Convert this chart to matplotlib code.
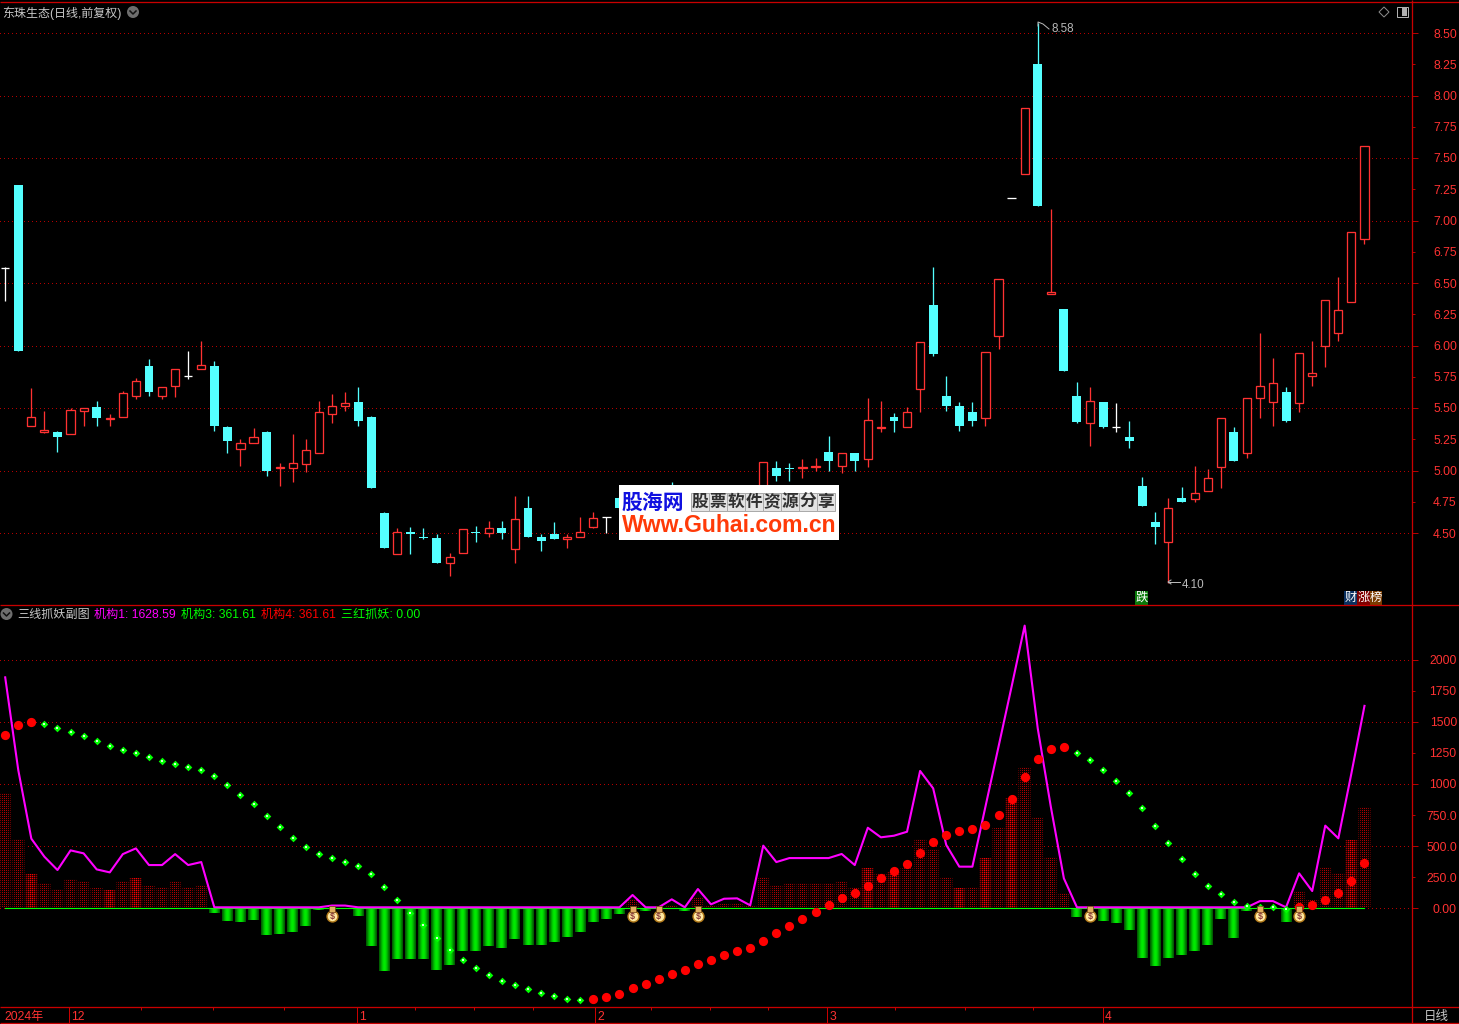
import numpy as np
import matplotlib
matplotlib.use("Agg")
import matplotlib.pyplot as plt
from matplotlib.patches import Rectangle, Circle, Polygon
from matplotlib.path import Path
from matplotlib.patches import PathPatch

plt.rcParams['font.family'] = ['Liberation Sans', 'Noto Sans CJK SC', 'DejaVu Sans']

# candles, one row of ten per line
opens = [6.62, 7.28, 5.36, 5.31, 5.31, 5.29, 5.48, 5.51, 5.41, 5.43,
         5.60, 5.84, 5.60, 5.68, 5.76, 5.81, 5.84, 5.35, 5.17, 5.22,
         5.31, 5.02, 5.02, 5.05, 5.14, 5.45, 5.52, 5.55, 5.43, 4.66,
         4.33, 4.51, 4.47, 4.46, 4.26, 4.34, 4.51, 4.50, 4.54, 4.37,
         4.70, 4.47, 4.49, 4.45, 4.47, 4.55, 4.63, 4.78, 4.62, 4.72,
         4.66, 4.82, 4.72, 4.62, 4.74, 4.68, 4.72, 4.80, 4.74, 5.02,
         5.02, 5.02, 5.03, 5.15, 5.04, 5.14, 5.09, 5.34, 5.43, 5.35,
         5.65, 6.32, 5.60, 5.52, 5.47, 5.42, 6.08, 7.18, 7.37, 8.25,
         6.41, 6.29, 5.60, 5.38, 5.55, 5.35, 5.27, 4.88, 4.59, 4.43,
         4.78, 4.77, 4.84, 5.03, 5.31, 5.14, 5.58, 5.55, 5.63, 5.54,
         5.76, 6.00, 6.10, 6.35, 6.85]
closes = [6.62, 5.96, 5.43, 5.32, 5.27, 5.48, 5.50, 5.42, 5.42, 5.62,
          5.72, 5.63, 5.67, 5.81, 5.76, 5.84, 5.36, 5.24, 5.22, 5.27,
          5.00, 5.03, 5.06, 5.16, 5.47, 5.52, 5.54, 5.40, 4.86, 4.38,
          4.51, 4.49, 4.46, 4.26, 4.31, 4.53, 4.50, 4.54, 4.50, 4.61,
          4.47, 4.44, 4.45, 4.47, 4.51, 4.62, 4.63, 4.70, 4.72, 4.66,
          4.70, 4.70, 4.62, 4.74, 4.68, 4.74, 4.78, 4.72, 5.07, 4.96,
          5.01, 5.03, 5.04, 5.08, 5.14, 5.08, 5.40, 5.35, 5.40, 5.47,
          6.03, 5.93, 5.52, 5.36, 5.40, 5.95, 6.53, 7.18, 7.90, 7.12,
          6.43, 5.80, 5.39, 5.56, 5.35, 5.35, 5.24, 4.72, 4.55, 4.70,
          4.75, 4.82, 4.94, 5.42, 5.08, 5.58, 5.68, 5.70, 5.40, 5.94,
          5.78, 6.36, 6.28, 6.91, 7.60]
highs = [6.63, 7.28, 5.66, 5.48, 5.32, 5.50, 5.50, 5.56, 5.45, 5.64,
         5.74, 5.89, 5.67, 5.81, 5.96, 6.04, 5.88, 5.36, 5.25, 5.34,
         5.32, 5.06, 5.29, 5.25, 5.56, 5.61, 5.63, 5.67, 5.44, 4.67,
         4.54, 4.55, 4.54, 4.49, 4.34, 4.53, 4.56, 4.60, 4.60, 4.80,
         4.80, 4.49, 4.59, 4.49, 4.63, 4.67, 4.63, 4.79, 4.74, 4.76,
         4.74, 4.91, 4.74, 4.78, 4.78, 4.78, 4.82, 4.84, 5.07, 5.08,
         5.06, 5.09, 5.10, 5.28, 5.14, 5.14, 5.58, 5.56, 5.46, 5.51,
         6.03, 6.63, 5.76, 5.55, 5.55, 5.95, 6.53, 7.18, 7.90, 8.58,
         7.09, 6.29, 5.71, 5.67, 5.55, 5.54, 5.40, 4.95, 4.67, 4.78,
         4.87, 5.04, 5.01, 5.42, 5.35, 5.58, 6.10, 5.90, 5.67, 5.94,
         6.04, 6.36, 6.55, 6.91, 7.60]
lows = [6.36, 5.96, 5.36, 5.30, 5.15, 5.29, 5.36, 5.36, 5.36, 5.43,
        5.57, 5.60, 5.57, 5.59, 5.73, 5.81, 5.32, 5.14, 5.04, 5.22,
        4.96, 4.88, 4.91, 4.99, 5.14, 5.38, 5.48, 5.36, 4.86, 4.38,
        4.33, 4.33, 4.45, 4.26, 4.16, 4.34, 4.43, 4.47, 4.45, 4.26,
        4.47, 4.36, 4.45, 4.38, 4.47, 4.54, 4.50, 4.70, 4.60, 4.62,
        4.62, 4.66, 4.58, 4.60, 4.64, 4.66, 4.70, 4.68, 4.72, 4.92,
        4.92, 4.94, 5.00, 5.00, 4.98, 5.00, 5.03, 5.31, 5.31, 5.35,
        5.47, 5.92, 5.48, 5.32, 5.36, 5.36, 5.97, 7.18, 7.37, 7.12,
        6.41, 5.80, 5.38, 5.20, 5.34, 5.31, 5.18, 4.72, 4.41, 4.10,
        4.75, 4.75, 4.84, 4.86, 5.08, 5.10, 5.42, 5.36, 5.39, 5.47,
        5.68, 5.83, 6.04, 6.35, 6.81]

# sub panel
jigou1 = [1858, 1112, 560, 415, 308, 466, 442, 313, 289, 436,
          482, 348, 348, 436, 348, 372, 8, 8, 8, 8,
          8, 8, 8, 8, 8, 22, 22, 8, 8, 8,
          8, 8, 8, 8, 8, 8, 8, 8, 8, 8,
          8, 8, 8, 8, 8, 8, 8, 8, 107, 8,
          8, 72, 8, 155, 32, 77, 80, 24, 504, 372,
          404, 404, 404, 404, 437, 348, 648, 571, 584, 616,
          1105, 965, 510, 335, 335, 818, 1300, 1783, 2274, 1448,
          818, 241, 8, 8, 8, 8, 8, 8, 8, 8,
          8, 8, 8, 8, 8, 8, 58, 58, 8, 281,
          139, 665, 563, 1086, 1628.59]
jigou3 = [1394, 1474, 1498, 1482, 1450, 1418, 1386, 1346, 1305, 1273,
          1249, 1217, 1185, 1160, 1136, 1112, 1064, 991, 911, 839,
          742, 654, 565, 493, 436, 404, 372, 340, 275, 171,
          66, -38, -135, -240, -336, -416, -481, -537, -585, -617,
          -650, -682, -706, -730, -738, -730, -714, -690, -642, -609,
          -569, -529, -497, -448, -416, -376, -344, -320, -263, -199,
          -143, -86, -30, 26, 83, 123, 179, 243, 300, 356,
          445, 533, 590, 622, 638, 670, 751, 879, 1056, 1201,
          1282, 1298, 1249, 1193, 1113, 1024, 928, 807, 662, 525,
          397, 276, 179, 115, 51, 19, 11, 10, -5, 11,
          27, 67, 123, 220, 361.61]
bars = [930, 560, 275, 203, 155, 235, 219, 163, 147, 219,
        243, 179, 171, 219, 171, 187, -38, -103, -111, -95,
        -215, -207, -191, -143, -13, 0, 0, -62, -303, -504,
        -408, -408, -408, -496, -456, -344, -344, -304, -320, -247,
        -296, -296, -271, -231, -191, -111, -86, -46, 75, -20,
        0, 26, -20, 80, 18, 34, 45, 18, 252, 187,
        203, 203, 203, 203, 219, 171, 324, 284, 292, 324,
        557, 477, 255, 163, 171, 405, 646, 887, 1137, 734,
        413, 123, -70, 0, -102, -118, -174, -400, -464, -400,
        -376, -344, -296, -86, -239, -21, 0, 0, -110, 139,
        67, 332, 284, 550, 815]
bright_bars = [2, 8, 10, 66, 68, 73, 75, 77, 103]
bag_days = [25, 48, 50, 53, 83, 96, 99]

price_major = [4.5, 5.0, 5.5, 6.0, 6.5, 7.0, 7.5, 8.0, 8.5]
price_minor = [4.75, 5.25, 5.75, 6.25, 6.75, 7.25, 7.75, 8.25]
sub_major = [0, 500, 1000, 1500, 2000]
sub_major_labels = ["0.00", "500.0", "1000", "1500", "2000"]
sub_minor = [250, 750, 1250, 1750]
sub_minor_labels = ["250.0", "750.0", "1250", "1750"]
month_pos = [4.88, 26.95, 45.15, 62.9, 84.0]
month_labels = ["12", "1", "2", "3", "4"]
week_pos = [10.4, 15.9, 21.3, 31.35, 35.9, 40.4, 49.4, 53.9, 58.4, 68.1, 73.4, 78.6]

W, H = 1459, 1024
RED = '#ff3232'
CYAN = '#54ffff'
LINE = '#b40000'
px = 0.72  # one pixel in points at dpi 100
step = 13.07
x0 = 5.2
xlim = (-x0 / step, (1412 - x0) / step)

fig = plt.figure(figsize=(W / 100, H / 100), dpi=100, facecolor='black')


def make_axes(top, bottom):
    ax = fig.add_axes([0, 1 - bottom / H, 1412 / W, (bottom - top) / H], facecolor='black')
    for s in ax.spines.values():
        s.set_visible(False)
    ax.yaxis.tick_right()
    ax.set_xticks([])
    ax.tick_params(axis='y', which='major', length=6 * px, width=px, color=LINE, pad=28,
                   labelcolor=RED, labelsize=8.7)
    ax.tick_params(axis='y', which='minor', length=3 * px, width=px, color=LINE, pad=30,
                   labelcolor=RED, labelsize=8.7)
    ax.grid(axis='y', which='major', color=LINE, linestyle=(0, (1, 3.4)), linewidth=px, antialiased=False)
    ax.set_axisbelow(True)
    return ax


# ---- price panel
ax = make_axes(3, 605)
days = np.arange(len(opens))
cw = 1.3 * px
for i in days:
    o, c, hi, lo = opens[i], closes[i], highs[i], lows[i]
    col = RED if c > o else (CYAN if c < o else 'white')
    ax.vlines(i, lo, hi, color=col, linewidth=cw, zorder=2)
    if c == o:
        ax.hlines(c, i - 0.32, i + 0.32, color=col, linewidth=cw, zorder=3)
    elif c > o:
        ax.bar(i, c - o, bottom=o, width=0.62, facecolor='black', edgecolor=col,
               linewidth=cw, zorder=3)
    else:
        ax.bar(i, o - c, bottom=c, width=0.68, facecolor=col, edgecolor=col,
               linewidth=0, antialiased=False, zorder=3)
ax.set_xlim(xlim)
ax.set_ylim(4.5 + (533 - 605) * 0.008, 4.5 + (533 - 3) * 0.008)
ax.set_yticks(price_major)
ax.set_yticklabels(["%.2f" % v for v in price_major], ha='right')
ax.set_yticks(price_minor, minor=True)
ax.set_yticklabels(["%.2f" % v for v in price_minor], minor=True, ha='right')

# ---- sub panel
ax2 = make_axes(606, 1007)
ylim2 = ((908.3 - 1007) / 0.1243, (908.3 - 606) / 0.1243)
ax2.set_xlim(xlim)
ax2.set_ylim(ylim2)

# dot textures at screen resolution, cut down to the columns with a clip path
rows, cols = 401, 1412
rr, cc = np.mgrid[0:rows, 0:cols]
frac = (((cc + 0.5 - x0) / step + 0.5) % 1.0)
shade = 0.35 + 0.65 * np.sin(np.pi * frac)
dim_tex = np.zeros((rows, cols, 3))
dim_tex[..., 0] = np.where((rr % 2 == 0) & (cc % 2 == 0), 0.72, 0.03) * shade
bright_tex = np.zeros((rows, cols, 3))
bright_tex[..., 0] = np.where((rr % 2 == 0) & (cc % 2 == 0), 1.0,
                              np.where((rr % 2 == 0) | (cc % 2 == 0), 0.32, 0.06)) * shade


def column_path(idx):
    verts, codes = [], []
    for i in idx:
        verts += [(i - 0.5, 0), (i + 0.5, 0), (i + 0.5, bars[i]), (i - 0.5, bars[i]), (i - 0.5, 0)]
        codes += [Path.MOVETO, Path.LINETO, Path.LINETO, Path.LINETO, Path.CLOSEPOLY]
    return Path(verts, codes)


up_idx = [i for i, v in enumerate(bars) if v > 0]
dim_idx = [i for i in up_idx if i not in bright_bars]
for idx, tex in [(dim_idx, dim_tex), (bright_bars, bright_tex)]:
    im = ax2.imshow(tex, extent=(xlim[0], xlim[1], ylim2[0], ylim2[1]), aspect='auto',
                    interpolation='nearest', zorder=2)
    im.set_clip_path(PathPatch(column_path(idx), transform=ax2.transData))

for i, v in enumerate(bars):
    if v < 0:
        s = np.sin(np.pi * (np.arange(11) + 0.5) / 11) ** 1.4
        img = np.zeros((1, 11, 3))
        img[0, :, 1] = 0.34 + 0.58 * s
        ax2.imshow(img, extent=(i - 0.42, i + 0.42, v, 0), aspect='auto', interpolation='nearest', zorder=2)

ax2.plot([0, len(jigou1) - 1], [0, 0], color='#00ff00', linewidth=1.1 * px, zorder=3)
ax2.plot(days, jigou1, color='#ff00ff', linewidth=2.1 * px, zorder=4)

dots = np.array(jigou3)
rising = np.r_[True, dots[1:] >= dots[:-1]]
ax2.scatter(days[rising], dots[rising], s=44, color='#ff0000', linewidths=0, zorder=5)
ax2.scatter(days[~rising], dots[~rising], s=15, marker='D', color='#00ff00', linewidths=0, zorder=5)
ax2.scatter(days[~rising], dots[~rising], s=1.2, marker='s', color='#d0ffd0', linewidths=0, zorder=6)

# money bags
bag_y = -62
ax2.scatter(bag_days, [bag_y] * len(bag_days), s=62, color='#ffe9a0', edgecolors='#b07818',
            linewidths=1.0, zorder=7)
ax2.scatter(bag_days, [bag_y + 58] * len(bag_days), s=14, marker='s', color='#e0b060',
            edgecolors='#704010', linewidths=0.5, zorder=7)
for d in bag_days:
    ax2.text(d, bag_y - 3, "$", color='#8a3a3a', fontsize=6.5, fontweight='bold',
             ha='center', va='center', zorder=8)

ax2.set_xlim(xlim)
ax2.set_ylim(ylim2)
ax2.set_yticks(sub_major)
ax2.set_yticklabels(sub_major_labels, ha='right')
ax2.set_yticks(sub_minor, minor=True)
ax2.set_yticklabels(sub_minor_labels, minor=True, ha='right')

# ---- frame, labels and watermark in pixel coords
top = fig.add_axes([0, 0, 1, 1], facecolor='none', zorder=10)
top.set_xlim(0, W)
top.set_ylim(H, 0)
top.axis('off')


def hline(y, x1=0, x2=W, lw=1.3):
    top.plot([x1, x2], [y, y], color='#c80000', linewidth=lw * px, solid_capstyle='butt')


def vline(x, y1=0, y2=H, lw=1.3, color='#c80000'):
    top.plot([x, x], [y1, y2], color=color, linewidth=lw * px, solid_capstyle='butt')


hline(2)
hline(605)
hline(1007)
hline(1023)
vline(1411.5, 0, H)

for p, lab in zip(month_pos, month_labels):
    xp = x0 + p * step
    vline(xp, 1007, 1023, lw=1)
    top.text(xp + 2, 1017, lab, color=RED, fontsize=8.7, ha='left', va='center')
for p in week_pos:
    vline(x0 + p * step, 1007, 1009.5, lw=1)
top.text(4, 1017, "2024年", color=RED, fontsize=8.7, ha='left', va='center')
top.text(1436, 1017, "日线", color='#c8c8c8', fontsize=9, ha='center', va='center')

top.text(2, 13, "东珠生态(日线,前复权)", color='#c8c8c8', fontsize=8.64, ha='left', va='center')


def chevron(cx, cy):
    top.add_patch(Circle((cx, cy), 6, color='#6e6e6e', linewidth=0))
    top.plot([cx - 3, cx, cx + 3], [cy - 1, cy + 2, cy - 1], color='#111111', linewidth=1.1)


chevron(133, 12)
chevron(6.5, 614)

# icons top right
top.add_patch(Polygon([(1384, 7), (1389, 12), (1384, 17), (1379, 12)], closed=True, fill=False,
                      edgecolor='#8c8c8c', linewidth=px))
top.add_patch(Rectangle((1397, 7), 11, 10, fill=False, edgecolor='#b0b0b0', linewidth=px))
top.add_patch(Rectangle((1402, 8), 5, 8, color='#b0b0b0', linewidth=0))

# sub panel legend
legend_parts = [("三线抓妖副图", 17, '#c8c8c8'), ("机构1: 1628.59", 94, '#ff00ff'),
                ("机构3: 361.61", 181, '#00ff00'), ("机构4: 361.61", 261, '#ff0000'),
                ("三红抓妖: 0.00", 341, '#00ff00')]
for s, xp, col in legend_parts:
    top.text(xp, 615, s, color=col, fontsize=8.7, ha='left', va='center')

# high and low notes
top.plot([1049, 1043, 1038, 1038], [29, 24, 22, 26], color='#b8b8b8', linewidth=px)
top.text(1052, 29.5, "8.58", color='#b8b8b8', fontsize=8.4, ha='left', va='center')
top.plot([1168, 1180], [582, 582], color='#b8b8b8', linewidth=px)
top.plot([1171, 1168, 1171], [580, 582, 584], color='#b8b8b8', linewidth=px)
top.text(1182, 584.5, "4.10", color='#b8b8b8', fontsize=8.4, ha='left', va='center')

# tags above the divider
for s, xp, col in [("跌", 1135, '#0a7a0a'), ("财", 1344, '#0a3060'), ("涨", 1357, '#800000'), ("榜", 1369.5, '#7a3c00')]:
    top.add_patch(Rectangle((xp, 591), 12.8, 13.5, color=col, linewidth=0))
    top.text(xp + 6.4, 598, s, color='white', fontsize=8.8, ha='center', va='center')

# watermark
top.add_patch(Rectangle((619, 485), 220, 55, color='white', linewidth=0, zorder=20))
top.text(653, 503, "股海网", color='#1010e0', fontsize=15, fontweight='bold', ha='center', va='center', zorder=21)
for k, ch in enumerate("股票软件资源分享"):
    cx = 691 + k * 18
    top.add_patch(Rectangle((cx, 493), 18, 18, facecolor='#e4e4e4', edgecolor='#aaaaaa', linewidth=px, zorder=21))
    top.text(cx + 9, 502.5, ch, color='#303030', fontsize=12, fontweight='bold', ha='center', va='center', zorder=22)
top.text(729, 525.5, "Www.Guhai.com.cn", color='#ff3a08', fontsize=16.6, fontweight='bold', ha='center', va='center', zorder=21)

fig.savefig('out.png', dpi=100, facecolor='black')
